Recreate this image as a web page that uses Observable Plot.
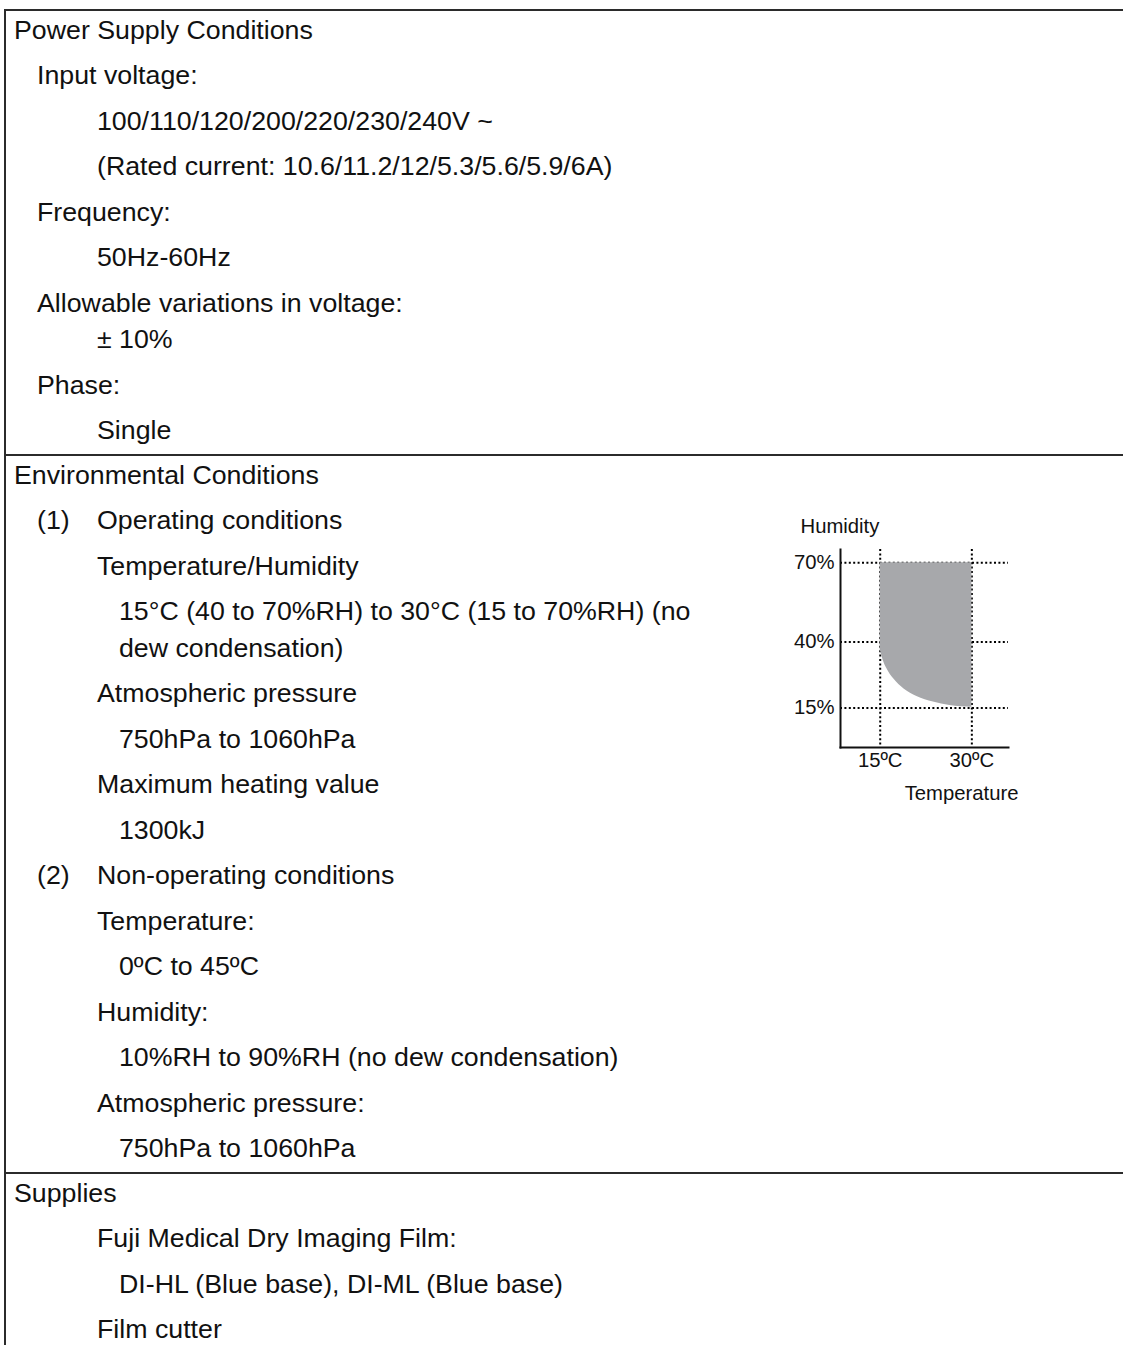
<!DOCTYPE html>
<html>
<head>
<meta charset="utf-8">
<script src="https://cdn.jsdelivr.net/npm/d3@7"></script>
<script src="https://cdn.jsdelivr.net/npm/@observablehq/plot@0.6"></script>
<style>
  html, body { margin: 0; padding: 0; background: #fff; }
  body { width: 1123px; height: 1345px; overflow: hidden; font-family: Arial, "Liberation Sans", sans-serif; color: #111; }
  #page { position: relative; width: 1123px; height: 1345px; }
  .vline { position: absolute; left: 4px; top: 9px; width: 2px; height: 1336px; background: #2b2b2b; }
  .hline { position: absolute; left: 4px; width: 1119px; height: 2px; background: #2b2b2b; }
  .t { position: absolute; font-size: 25.6px; line-height: 1; white-space: nowrap; transform-origin: 0 50%; transform: translateY(-50%) scaleX(1.045); }
  #chart { position: absolute; left: 780px; top: 500px; }
  #chart svg { overflow: visible; }
</style>
</head>
<body>
<div id="page"><div class="vline"></div><div id="chart"></div></div>
<script>
// ---- Document text (indent level 0..3; num = list marker) ----
const powerRows = [
  {level: 0, text: "Power Supply Conditions"},
  {level: 1, text: "Input voltage:"},
  {level: 2, text: "100/110/120/200/220/230/240V ~"},
  {level: 2, text: "(Rated current: 10.6/11.2/12/5.3/5.6/5.9/6A)"},
  {level: 1, text: "Frequency:"},
  {level: 2, text: "50Hz-60Hz"},
  {level: 1, text: "Allowable variations in voltage:"},
  {level: 2, text: "± 10%", tight: true},
  {level: 1, text: "Phase:"},
  {level: 2, text: "Single"}
];
const environmentRows = [
  {level: 0, text: "Environmental Conditions"},
  {level: 2, num: "(1)", text: "Operating conditions"},
  {level: 2, text: "Temperature/Humidity"},
  {level: 3, text: "15°C (40 to 70%RH) to 30°C (15 to 70%RH) (no"},
  {level: 3, text: "dew condensation)", tight: true},
  {level: 2, text: "Atmospheric pressure"},
  {level: 3, text: "750hPa to 1060hPa"},
  {level: 2, text: "Maximum heating value"},
  {level: 3, text: "1300kJ"},
  {level: 2, num: "(2)", text: "Non-operating conditions"},
  {level: 2, text: "Temperature:"},
  {level: 3, text: "0ºC to 45ºC"},
  {level: 2, text: "Humidity:"},
  {level: 3, text: "10%RH to 90%RH (no dew condensation)"},
  {level: 2, text: "Atmospheric pressure:"},
  {level: 3, text: "750hPa to 1060hPa"}
];
const supplyRows = [
  {level: 0, text: "Supplies"},
  {level: 2, text: "Fuji Medical Dry Imaging Film:"},
  {level: 3, text: "DI-HL (Blue base), DI-ML (Blue base)"},
  {level: 2, text: "Film cutter"}
];

// ---- Chart data: operating temperature/humidity envelope ----
const tempC       = [15, 15.5, 16.1, 17.2, 18.9, 21, 23.7, 26.4, 30];
const humidityLow = [37, 33, 29.8, 26, 22.2, 19.3, 17.2, 15.9, 15.2];
const humidityHigh = 70;
const humidityTicks = [15, 40, 70];
const tempTicks = [15, 30];
const yAxisTitle = "Humidity";
const xAxisTitle = "Temperature";

// ---- Layout of text ----
const page = document.getElementById("page");
const indentX = [14, 37, 97, 119];
const step = 45.5, tightStep = 36.5, headerOffset = 21.5, afterGap = 23;
let lineTop = 9;
[powerRows, environmentRows, supplyRows].forEach((rows) => {
  const hl = document.createElement("div");
  hl.className = "hline";
  hl.style.top = lineTop + "px";
  page.appendChild(hl);
  let y = lineTop + headerOffset;
  rows.forEach((r, i) => {
    if (i > 0) y += r.tight ? tightStep : step;
    if (r.num) {
      const n = document.createElement("div");
      n.className = "t"; n.textContent = r.num;
      n.style.left = indentX[1] + "px"; n.style.top = y + "px";
      page.appendChild(n);
    }
    const d = document.createElement("div");
    d.className = "t"; d.textContent = r.text;
    d.style.left = indentX[r.level] + "px"; d.style.top = y + "px";
    page.appendChild(d);
  });
  lineTop = y + afterGap;
});

// ---- Chart ----
const rows = tempC.map((t, i) => ({t, low: humidityLow[i], high: humidityHigh}));
const dotted = {stroke: "#000", strokeWidth: 2, strokeDasharray: "2,2.4"};
const chart = Plot.plot({
  width: 260, height: 320,
  marginLeft: 60, marginRight: 32, marginTop: 49, marginBottom: 73,
  x: {domain: [8.5, 36]},
  y: {domain: [0, 75]},
  style: {fontSize: "20.3px", fontFamily: "Arial, 'Liberation Sans', sans-serif", color: "#111", background: "transparent"},
  marks: [
    Plot.ruleY(humidityTicks, dotted),
    Plot.ruleX(tempTicks, dotted),
    Plot.areaY(rows, {x: "t", y1: "low", y2: "high", fill: "#a7a8ab", curve: "monotone-x"}),
    Plot.frame({anchor: "left", stroke: "#111", strokeWidth: 2}),
    Plot.frame({anchor: "bottom", stroke: "#111", strokeWidth: 2}),
    Plot.axisY({ticks: humidityTicks, tickFormat: d => d + "%", tickSize: 0, tickPadding: 6, label: null}),
    Plot.axisX({ticks: tempTicks, tickFormat: d => d + "ºC", tickSize: 0, tickPadding: 5, label: null}),
    Plot.text([yAxisTitle], {text: d => d, frameAnchor: "top-left", textAnchor: "start", lineAnchor: "middle", dx: -40, dy: -23}),
    Plot.text([xAxisTitle], {text: d => d, frameAnchor: "bottom-right", textAnchor: "end", lineAnchor: "middle", dx: 10, dy: 46})
  ]
});
document.getElementById("chart").appendChild(chart);
</script>
</body>
</html>
